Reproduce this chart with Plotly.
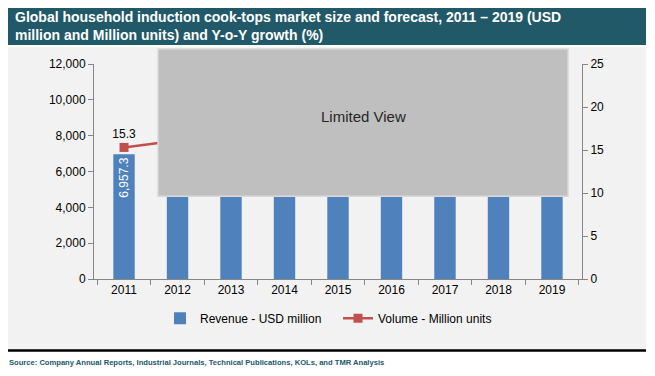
import plotly.graph_objects as go

years = ["2011", "2012", "2013", "2014", "2015", "2016", "2017", "2018", "2019"]
revenue = [6957.3, 7600, 8250, 8900, 9500, 10100, 10700, 11200, 11700]
volume = [15.3, 16.1, 17.0, 18.0, 19.0, 20.0, 21.0, 22.0, 23.0]
revenue_labels = ["6,957.3", "", "", "", "", "", "", "", ""]
volume_labels = ["15.3", "", "", "", "", "", "", "", ""]

OFF = 8  # page body margin
W, H = 655 - OFF, 376 - OFF
L, R, T, B = 94 - OFF, 582 - OFF, 64 - OFF, 278.7 - OFF  # plot area in figure pixels

def px(x):
    return (x - OFF - L) / (R - L)

def py(y):
    return (B - (y - OFF)) / (B - T)

fig = go.Figure()
fig.add_trace(go.Bar(
    x=years, y=revenue, name="Revenue - USD million",
    marker=dict(color="#4f81bd", line=dict(width=0)),
    text=revenue_labels, textposition="inside", insidetextanchor="end",
    textangle=-90, textfont=dict(color="white", size=12, family="Liberation Sans, Arial"),
    cliponaxis=False,
))
fig.add_trace(go.Scatter(
    x=years, y=volume, name="Volume - Million units", yaxis="y2",
    mode="lines+markers+text",
    line=dict(color="#c0504d", width=2.5),
    marker=dict(symbol="square", size=9, color="#c0504d"),
    text=volume_labels, textposition="top center",
    textfont=dict(color="#000000", size=12, family="Liberation Sans, Arial"),
))

shapes = [
    dict(type="rect", xref="paper", yref="paper", x0=px(7), x1=px(646), y0=py(349), y1=py(47),
         fillcolor="#f2f2f2", line=dict(width=0), layer="below"),
    dict(type="rect", xref="paper", yref="paper", x0=px(7), x1=px(646), y0=py(45), y1=py(8),
         fillcolor="#215968", line=dict(width=0), layer="below"),
    dict(type="line", xref="paper", yref="paper", x0=px(7), x1=px(646), y0=py(350), y1=py(350),
         line=dict(color="#000000", width=2.5), layer="below"),
    dict(type="rect", xref="paper", yref="paper", x0=px(158), x1=px(568), y0=py(196), y1=py(49),
         fillcolor="#bfbfbf", line=dict(color="#d9d9d9", width=1.5), layer="above"),
]

annotations = [
    dict(xref="paper", yref="paper", x=px(13), y=py(26), xanchor="left", yanchor="middle",
         align="left", showarrow=False,
         text="<b>Global household induction cook-tops market size and forecast, 2011 – 2019 (USD<br>million and Million units) and Y-o-Y growth (%)</b>",
         font=dict(color="white", size=14, family="Liberation Sans, Arial")),
    dict(xref="paper", yref="paper", x=px(363), y=py(116), xanchor="center", yanchor="middle",
         showarrow=False, text="Limited View",
         font=dict(color="#262626", size=15, family="Liberation Sans, Arial")),
    dict(xref="paper", yref="paper", x=px(7), y=py(362), xanchor="left", yanchor="middle",
         showarrow=False,
         text="<b>Source: Company Annual Reports, Industrial Journals, Technical Publications, KOLs, and TMR Analysis</b>",
         font=dict(color="#215968", size=7.6, family="Liberation Sans, Arial")),
]

axis_font = dict(color="#000000", size=12, family="Liberation Sans, Arial")
fig.update_layout(
    width=W, height=H,
    margin=dict(l=L, r=W - R, t=T, b=H - B, pad=0),
    paper_bgcolor="white", plot_bgcolor="rgba(0,0,0,0)",
    bargap=0.6,
    showlegend=True,
    legend=dict(orientation="h", x=px(160), xanchor="left", y=py(318), yanchor="middle",
                font=dict(color="#000000", size=12, family="Liberation Sans, Arial"),
                bgcolor="rgba(0,0,0,0)", traceorder="normal", itemwidth=30,
                entrywidth=133, entrywidthmode="pixels"),
    xaxis=dict(type="category", showgrid=False, showline=True, linecolor="#868686", linewidth=1,
               ticks="outside", ticklen=5, tickcolor="#868686", tickson="boundaries",
               tickfont=axis_font),
    yaxis=dict(range=[0, 12000], dtick=2000, tickformat=",", showgrid=False, showline=True,
               linecolor="#868686", linewidth=1, ticks="outside", ticklen=5, tickcolor="#868686",
               tickfont=axis_font, zeroline=False),
    yaxis2=dict(range=[0, 25], dtick=5, overlaying="y", side="right", showgrid=False,
                showline=True, linecolor="#868686", linewidth=1, ticks="outside", ticklen=5,
                tickcolor="#868686", tickfont=axis_font, zeroline=False),
    shapes=shapes,
    annotations=annotations,
)

fig.write_html("out.html")
